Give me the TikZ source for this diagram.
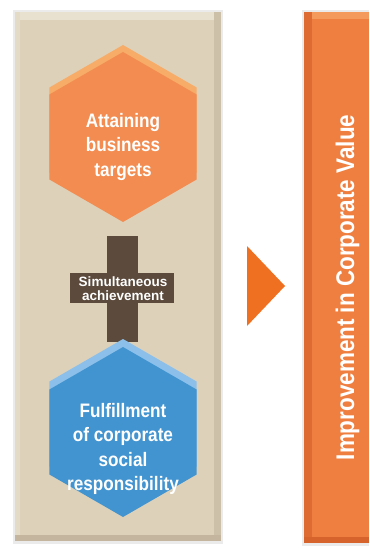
\documentclass[tikz,border=0pt]{standalone}
\usepackage{fontspec}
\setmainfont{Liberation Sans}
\newfontfamily\condbold{Liberation Sans}[FakeStretch=0.88]
\usetikzlibrary{shapes.geometric}
\definecolor{panel}{RGB}{221,209,186}
\definecolor{paneltop}{RGB}{233,225,207}
\definecolor{panelside}{RGB}{205,192,168}
\definecolor{panelbot}{RGB}{196,182,158}
\definecolor{barorange}{RGB}{239,127,64}
\definecolor{bardark}{RGB}{214,98,44}
\definecolor{barlight}{RGB}{244,154,92}
\definecolor{arroworange}{RGB}{240,112,34}
\definecolor{hexorange}{RGB}{242,140,80}
\definecolor{hexorangelight}{RGB}{247,172,104}
\definecolor{hexblue}{RGB}{66,148,208}
\definecolor{hexbluelight}{RGB}{140,192,234}
\definecolor{crossbrown}{RGB}{92,74,60}
\begin{document}
\begin{tikzpicture}[x=1pt,y=-1pt,
  hexshape/.style={regular polygon, regular polygon sides=6, shape border rotate=30,
    minimum size=170pt, inner sep=0pt, draw=none},
  hextext/.style={text=white, align=center, inner sep=0pt,
    font=\condbold\bfseries\fontsize{19.5}{24.5}\selectfont},
  crosstext/.style={text=white, align=center, inner sep=0pt,
    font=\bfseries\fontsize{13.5}{14}\selectfont},
  bartext/.style={text=white, inner sep=0pt, rotate=90, anchor=base,
    font=\condbold\bfseries\fontsize{25.5}{28}\selectfont}]
\useasboundingbox (0,0) rectangle (369,548);
\fill[white] (0,0) rectangle (369,548);
% soft shadows
\fill[black!8] (13,10) rectangle (223,544);
\fill[black!8] (302,10) rectangle (369,546);
% left panel
\fill[panel] (15,12) rectangle (221,541);
\fill[paneltop] (15,12) rectangle (221,20);
\fill[paneltop!60!panel] (15,12) rectangle (20,541);
\fill[panelside] (214,12) rectangle (221,541);
\fill[panelbot] (15,535) rectangle (221,541);
% right bar
\fill[barorange] (304,12) rectangle (369,543);
\fill[barlight] (304,12) rectangle (369,19);
\fill[bardark!70!barorange] (304,12) rectangle (312,543);
\fill[bardark] (304,537) rectangle (369,543);
% arrow
\fill[arroworange] (247,246) -- (285,286) -- (247,326) -- cycle;
% top hexagon
\node[hexshape, fill=hexorangelight] (tophexback) at (123,130) {};
\node[hexshape, fill=hexorange] (tophex) at (123,137) {};
\node[hextext] (toptext) at (123,147) {Attaining\\business\\targets};
% cross
\fill[crossbrown] (107,236) rectangle (138,342);
\fill[crossbrown] (70,273) rectangle (174,303);
\node[crosstext] (crosslabel) at (123,289) {Simultaneous\\achievement};
% bottom hexagon
\node[hexshape, fill=hexbluelight] (bothexback) at (123,424) {};
\node[hexshape, fill=hexblue] (bothex) at (123,432) {};
\node[hextext] (bottext) at (123,449) {Fulfillment\\of corporate\\social\\responsibility};
% vertical text
\node[bartext] (barlabel) at (354,287.5) {Improvement in Corporate Value};
\end{tikzpicture}
\end{document}
